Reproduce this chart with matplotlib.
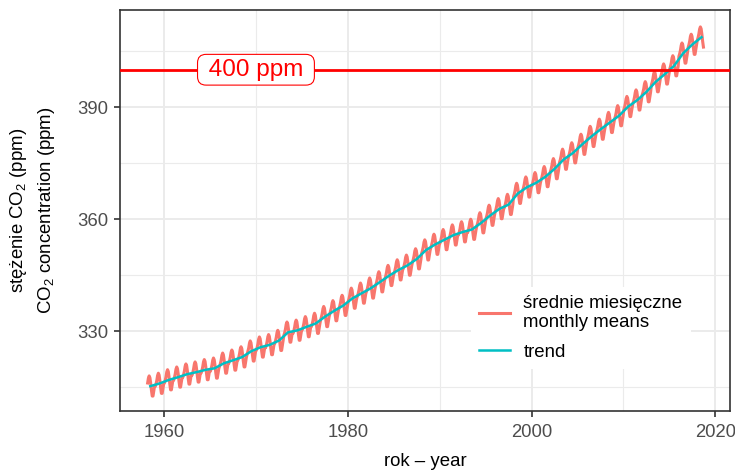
import numpy as np
import matplotlib
matplotlib.use("Agg")
import matplotlib.pyplot as plt

# srednie roczne CO2 (ppm), Mauna Loa, 1958-2018
lata = list(range(1958, 2019))
srednie_roczne = [
    315.25, 315.97, 316.91, 317.64, 318.45, 318.99, 319.62, 320.04, 321.37, 322.18,
    323.05, 324.62, 325.68, 326.32, 327.46, 329.68, 330.19, 331.13, 332.03, 333.84,
    335.41, 336.84, 338.76, 340.12, 341.48, 343.15, 344.85, 346.35, 347.61, 349.31,
    351.69, 353.20, 354.45, 355.70, 356.54, 357.21, 358.96, 360.97, 362.74, 363.88,
    366.84, 368.54, 369.71, 371.32, 373.45, 375.98, 377.70, 379.98, 382.09, 384.02,
    385.83, 387.64, 390.10, 391.85, 394.06, 396.74, 398.81, 401.01, 404.41, 406.76,
    408.72,
]
# odchylenia miesieczne od sredniej rocznej (sty..gru)
cykl_sezonowy = [-0.8, -0.1, 0.85, 2.15, 2.75, 2.25, 0.75, -1.15, -2.65, -2.65, -1.35, -0.05]
pierwszy_miesiac = 3   # marzec 1958
ostatni_miesiac = 9    # wrzesien 2018

# Budowa serii miesiecznej
czas, co2 = [], []
for rok, sr in zip(lata, srednie_roczne):
    for m in range(1, 13):
        if rok == lata[0] and m < pierwszy_miesiac:
            continue
        if rok == lata[-1] and m > ostatni_miesiac:
            continue
        czas.append(rok + (m - 0.5) / 12)
        co2.append(sr + cykl_sezonowy[m - 1])

plt.rcParams['font.family'] = ['Liberation Sans', 'DejaVu Sans']
plt.rcParams['mathtext.fontset'] = 'custom'
plt.rcParams['mathtext.rm'] = 'Liberation Sans'
plt.rcParams['mathtext.it'] = 'Liberation Sans:italic'

W, H = 735, 471
fig = plt.figure(figsize=(W / 100, H / 100), dpi=100)
ax = fig.add_axes([120 / W, 60 / H, 610 / W, 401 / H])

# Siatka w stylu theme_bw
ax.set_xticks([1960, 1980, 2000, 2020])
ax.set_xticks([1970, 1990, 2010], minor=True)
ax.set_yticks([330, 360, 390])
ax.set_yticks([315, 345, 375, 405], minor=True)
ax.grid(which='major', color='#EBEBEB', lw=1.4)
ax.grid(which='minor', color='#EBEBEB', lw=0.8)
ax.set_axisbelow(True)

ax.plot(czas, co2, color='#F8766D', lw=2.2, label='średnie miesięczne\nmonthly means', zorder=3)
ax.plot([r + 0.5 for r in lata], srednie_roczne, color='#00BFC4', lw=1.8,
        label='trend', zorder=4)

ax.axhline(400, color='#FF0000', lw=2.0, zorder=5)
ax.text(1970, 400, ' 400 ppm ', color='#FF0000', fontsize=17.5, ha='center', va='center',
        zorder=6, bbox=dict(boxstyle='round,pad=0.18,rounding_size=0.35', fc='white',
                            ec='#FF0000', lw=0.8))

ax.set_xlim(1955.2, 2021.6)
ax.set_ylim(308.6, 416.0)

for s in ax.spines.values():
    s.set_color('#333333')
    s.set_linewidth(1.2)
ax.tick_params(which='major', length=4.5, width=1.2, color='#333333',
               labelcolor='#4D4D4D', labelsize=13.3)
ax.tick_params(axis='x', pad=5)
ax.tick_params(axis='y', pad=4)
ax.tick_params(which='minor', length=0)

fig.text(425 / W, 1 - 461 / H, 'rok – year', fontsize=13.4, ha='center', va='center')
fig.text(32.5 / W, 1 - 210 / H, 'stężenie CO$_2$ (ppm)\nCO$_2$ concentration (ppm)',
         fontsize=13.4, rotation=90, ha='center', va='center', linespacing=1.5,
         multialignment='center')

leg = ax.legend(loc='upper left', bbox_to_anchor=(471 / W, 1 - 287 / H),
                bbox_transform=fig.transFigure, borderaxespad=0, frameon=True,
                fontsize=13.4, handlelength=1.67, borderpad=0.45, labelspacing=0.68,
                handletextpad=0.7)
for t in leg.get_texts():
    t.set_linespacing(1.12)
leg.get_frame().set_facecolor('white')
leg.get_frame().set_edgecolor('none')
leg.get_frame().set_alpha(1)
leg.get_frame().set_boxstyle('square', pad=0)

fig.savefig('out.png', dpi=100)
